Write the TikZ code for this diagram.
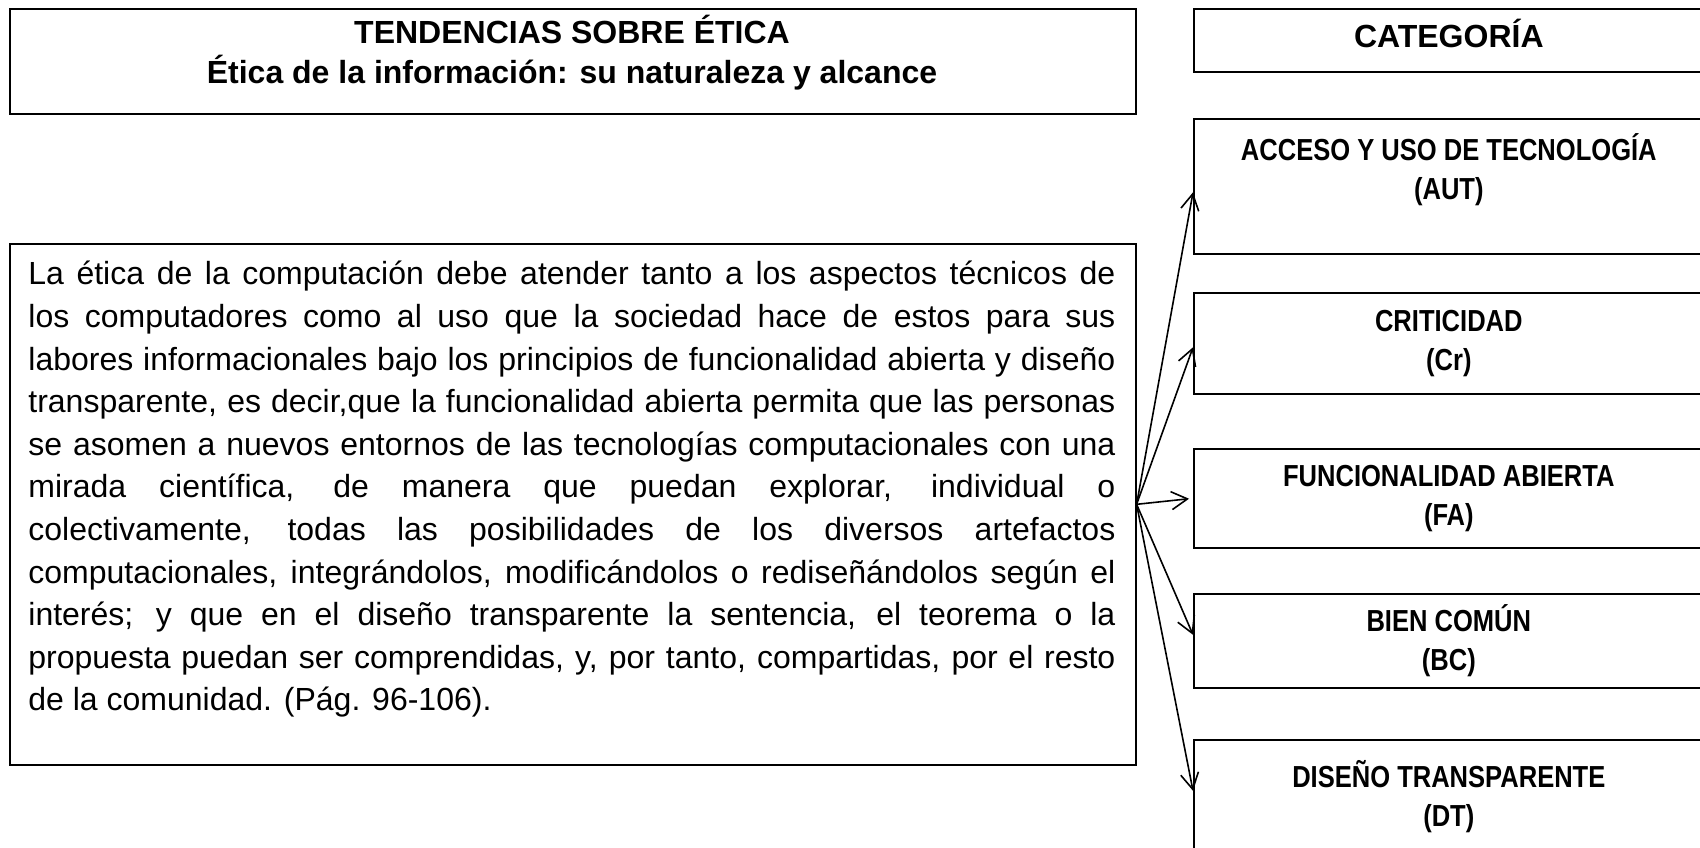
\documentclass[tikz,border=0pt]{standalone}
\usepackage{fontspec}
\setmainfont{Liberation Sans}
\newfontfamily\estrecha[FakeStretch=0.84]{Liberation Sans}
\usepackage{tikz}
\usetikzlibrary{arrows.meta, positioning}

\begin{document}
\begin{tikzpicture}[x=0.5pt, y=-0.5pt]
    \tikzstyle{caja} = [rectangle, draw, line width=0.8pt, inner sep=0pt, anchor=north west]
    \tikzstyle{cat} = [caja, minimum width=255pt, align=center, font=\estrecha\bfseries\fontsize{15.2}{19.5}\selectfont]
    \tikzstyle{flecha} = [-{Straight Barb[length=8pt,width=9pt]}, line width=0.8pt]

    \useasboundingbox (0,0) rectangle (1700,847);

    % left column
    \node[caja, minimum width=563pt, minimum height=52.5pt] (tendencias) at (9,8) {};
    \node[align=center, inner sep=0pt, font=\bfseries\fontsize{16}{20}\selectfont] (titulo) at (572,53)
        {TENDENCIAS SOBRE ÉTICA\\Ética de la información: su naturaleza y alcance};

    \node[caja, minimum width=563pt, minimum height=260.5pt] (texto) at (9,243) {};
    \node[anchor=north west, inner sep=0pt, text width=543.5pt, align=justify,
          font=\fontsize{16}{21.3}\selectfont] (cita) at (28,261)
        {\tolerance=10000\hyphenpenalty=10000
        La ética de la computación debe atender tanto a los aspectos técnicos de\linebreak
        los computadores como al uso que la sociedad hace de estos para sus\linebreak
        labores informacionales bajo los principios de funcionalidad abierta y diseño\linebreak
        transparente, es decir,que la funcionalidad abierta permita que las personas\linebreak
        se asomen a nuevos entornos de las tecnologías computacionales con una\linebreak
        mirada científica, de manera que puedan explorar, individual o\linebreak
        colectivamente, todas las posibilidades de los diversos artefactos\linebreak
        computacionales, integrándolos, modificándolos o rediseñándolos según el\linebreak
        interés; y que en el diseño transparente la sentencia, el teorema o la\linebreak
        propuesta puedan ser comprendidas, y, por tanto, compartidas, por el resto\linebreak
        de la comunidad. (Pág. 96-106).};

    % right column
    \node[cat, minimum height=31.5pt, text height=7pt, font=\bfseries\fontsize{16}{20}\selectfont] (categoria) at (1193,8) {CATEGORÍA};
    \node[cat, minimum height=67.5pt] (aut) at (1193,118) {ACCESO Y USO DE TECNOLOGÍA\\(AUT)\\\mbox{}};
    \node[cat, minimum height=50.5pt] (cr) at (1193,292) {CRITICIDAD\\(Cr)};
    \node[cat, minimum height=49.5pt] (fa) at (1193,448) {FUNCIONALIDAD ABIERTA\\(FA)};
    \node[cat, minimum height=47pt] (bc) at (1193,593) {BIEN COMÚN\\(BC)};
    \node[cat, minimum height=57pt] (dt) at (1193,739) {DISEÑO TRANSPARENTE\\(DT)};

    \draw[flecha] (texto.east) -- ([yshift=-3pt]aut.west);
    \draw[flecha] (texto.east) -- ([yshift=-2pt]cr.west);
    \draw[flecha, shorten >=2pt] (texto.east) -- (fa.west);
    \draw[flecha] (texto.east) -- ([yshift=3pt]bc.west);
    \draw[flecha] (texto.east) -- ([yshift=3pt]dt.west);
\end{tikzpicture}
\end{document}
